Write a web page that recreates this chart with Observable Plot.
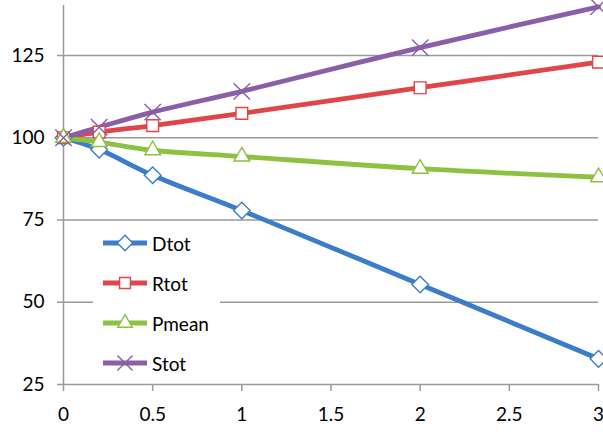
<!DOCTYPE html>
<html><head><meta charset="utf-8">
<script src="https://cdn.jsdelivr.net/npm/d3@7"></script>
<script src="https://cdn.jsdelivr.net/npm/@observablehq/plot@0.6"></script>
<style>
body{margin:0;background:#fff;}
#wrap{position:relative;width:603px;height:434px;font-family:Lato,"Open Sans",sans-serif;}
#legend{position:absolute;left:93px;top:224px;width:127px;height:156px;background:#fff;}
.row{position:absolute;left:10px;height:20px;display:flex;align-items:center;font-size:19px;color:#000;}
.row svg{margin-right:5px;}
</style>
</head><body>
<div id="wrap"></div>
<script>
const xValues = [0, 0.2, 0.5, 1, 2, 3];
const seriesNames = ["Dtot", "Rtot", "Pmean", "Stot"];
const dtot  = [100, 96.4, 88.6, 77.9, 55.4, 32.8];
const rtot  = [100, 101.7, 103.7, 107.4, 115.2, 123.0];
const pmean = [100, 98.7, 96.2, 94.3, 90.6, 88.0];
const stot  = [100, 103.2, 107.8, 114.1, 127.4, 139.8];
const seriesColors = ["#3b7dc8", "#e0454a", "#8cc23f", "#8a5ea8"];
const seriesSymbols = ["diamond2", "square2", "triangle2", "times"];
const yTicks = [25, 50, 75, 100, 125];
const xTicks = [0, 0.5, 1, 1.5, 2, 2.5, 3];
const yDomain = [25, 140.2];

const values = [dtot, rtot, pmean, stot];
const data = [];
seriesNames.forEach((s, i) => xValues.forEach((x, j) => data.push({series: s, x, y: values[i][j]})));

const plot = Plot.plot({
  width: 603, height: 434,
  marginLeft: 63, marginRight: 5, marginTop: 5, marginBottom: 50,
  style: {fontFamily: "Lato, 'Open Sans', sans-serif", fontSize: "19px", background: "#fff", overflow: "visible"},
  x: {domain: [0, 3]},
  y: {domain: yDomain},
  color: {domain: seriesNames, range: seriesColors},
  symbol: {domain: seriesNames, range: seriesSymbols},
  marks: [
    Plot.ruleY(yTicks.slice(1), {stroke: "#9a9a9a", strokeWidth: 1.5}),
    Plot.ruleY([25], {stroke: "#9a9a9a", strokeWidth: 1.5}),
    Plot.ruleX([0], {stroke: "#9a9a9a", strokeWidth: 1.5}),
    Plot.axisY({ticks: yTicks, tickSize: 6, tickPadding: 13, stroke: "#9a9a9a", strokeWidth: 1.5, label: null, fill: "#000"}),
    Plot.axisX({ticks: xTicks, tickSize: 7, stroke: "#9a9a9a", strokeWidth: 1.5, label: null, tickFormat: () => ""}),
    Plot.text(xTicks, {x: d => d, text: d => String(d), frameAnchor: "bottom", lineAnchor: "top", dy: 23, fill: "#000"}),
    Plot.line(data, {x: "x", y: "y", z: "series", stroke: "series", strokeWidth: 4.8, curve: "catmull-rom"}),
    Plot.dot(data, {x: "x", y: "y", symbol: "series", stroke: "series", fill: "white", r: 7.5, strokeWidth: 1.4})
  ]
});
document.getElementById("wrap").appendChild(plot);

// legend overlay
const legend = document.createElement("div");
legend.id = "legend";
document.getElementById("wrap").appendChild(legend);
const symMap = {diamond2: d3.symbolDiamond2, square2: d3.symbolSquare2, triangle2: d3.symbolTriangle2, times: d3.symbolTimes};
seriesNames.forEach((s, i) => {
  const row = document.createElement("div");
  row.className = "row";
  row.style.top = (9 + i * 40) + "px";
  const svg = d3.create("svg").attr("width", 44).attr("height", 20);
  svg.append("line").attr("x1", 0).attr("x2", 44).attr("y1", 10).attr("y2", 10)
    .attr("stroke", seriesColors[i]).attr("stroke-width", 4.8).attr("stroke-linecap", "round");
  svg.append("path").attr("transform", "translate(22,10)")
    .attr("d", d3.symbol(symMap[seriesSymbols[i]], 150)())
    .attr("fill", "white").attr("stroke", seriesColors[i]).attr("stroke-width", 1.4);
  row.appendChild(svg.node());
  const t = document.createElement("span");
  t.textContent = s;
  row.appendChild(t);
  legend.appendChild(row);
});
</script>
</body></html>
